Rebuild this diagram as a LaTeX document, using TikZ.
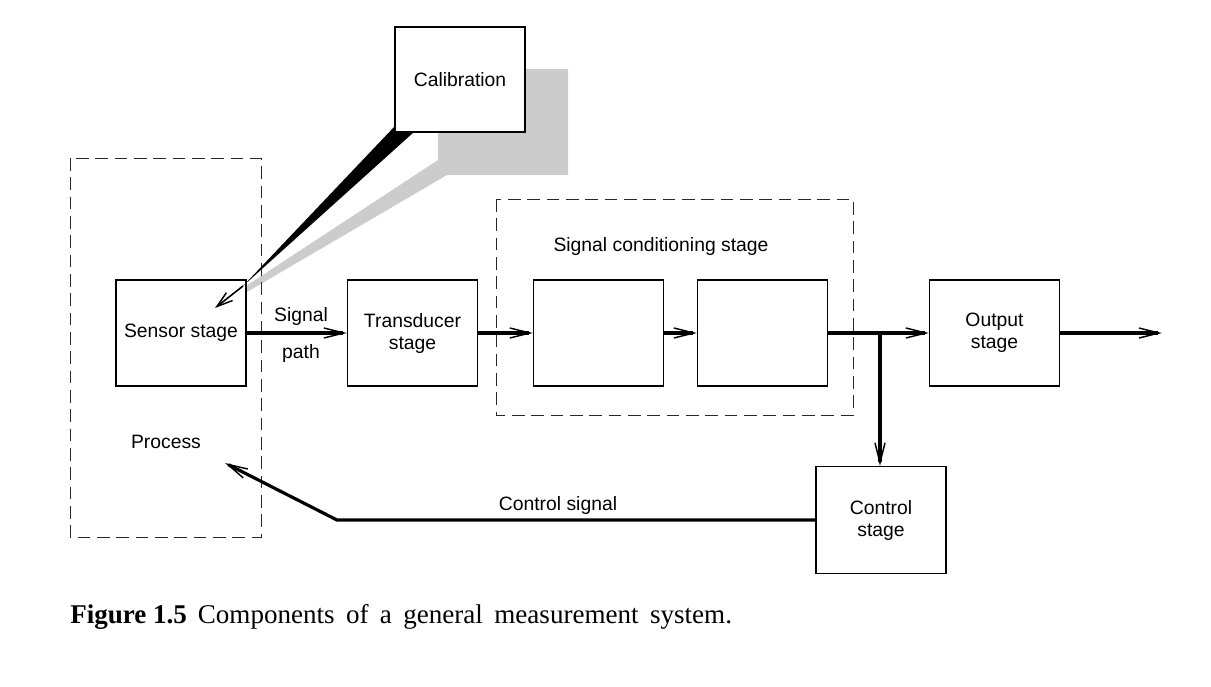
\documentclass[tikz,border=0pt]{standalone}
\usepackage{fontspec}
\setmainfont{Liberation Sans}
\newfontfamily\capfont{Liberation Serif}
\usepackage{tikz}
\usetikzlibrary{arrows.meta}

\begin{document}
\begin{tikzpicture}[x=0.75pt,y=0.75pt,yscale=-1,xscale=1,
	stage/.style={draw,line width=1pt,fill=white,minimum width=97.5pt,minimum height=79.5pt,align=center,inner sep=0pt,font=\fontsize{14.5}{16.5}\selectfont},
	lbl/.style={inner sep=0.75pt,font=\fontsize{14.5}{16.5}\selectfont},
	dashbox/.style={line width=0.75pt,dash pattern={on 9.5pt off 5pt},color={rgb, 255:red, 40; green, 40; blue, 40 }},
	sig/.style={line width=2.4pt,-{Straight Barb[length=15pt,width=7.5pt,line width=1.1pt]}}]
	\useasboundingbox (0,0) rectangle (1211,686);

	%Shape: Polygon [id:shadow]
	\fill [color={rgb, 255:red, 204; green, 204; blue, 204 }] (438,69) -- (568,69) -- (568,175) -- (447,175) -- (247,292) -- (243,288) -- (438,160) -- cycle ;
	%Shape: Rectangle [id:process]
	\draw [dashbox] (70,158) rectangle (261,537) ;
	%Shape: Rectangle [id:conditioning]
	\draw [dashbox] (496,199) rectangle (853,415) ;

	% Stage Nodes
	\draw (460,79.5) node [stage,minimum height=78.75pt] (calib) {Calibration};
	\draw (181,333) node [stage] (sensor) {Sensor stage};
	\draw (412.5,333) node [stage] (trans) {Transducer\\stage};
	\draw (598.5,333) node [stage] (sca) {};
	\draw (762.5,333) node [stage] (scb) {};
	\draw (994.5,333) node [stage] (out) {Output\\stage};
	\draw (881,520) node [stage,minimum height=80.25pt] (ctrl) {Control\\stage};

	%Shape: Polygon [id:wedge]
	\fill (395,126) -- (395,132) -- (414,132) -- (243,286) -- cycle ;
	\coordinate (wtip) at (243,286);
	\coordinate (calin) at (215,308);
	\draw [line width=1.2pt,-{Straight Barb[length=12pt,width=7.5pt,line width=1.1pt]}] (wtip) -- (calin) ;

	% Signal path
	\coordinate (junc) at (880,333);
	\coordinate (outend) at (1162,333);
	\draw [sig] (sensor) -- (trans) ;
	\draw [sig] (trans) -- (sca) ;
	\draw [sig] (sca) -- (scb) ;
	\draw [line width=2.4pt] (scb.east) -- (junc) ;
	\draw [sig] (junc) -- (out.west) ;
	\draw [sig] (out) -- (outend) ;
	\draw [sig] (junc) -- (junc |- ctrl.north) ;

	% Control signal
	\coordinate (bend) at (337,520);
	\coordinate (procin) at (225,463);
	\draw [sig] (ctrl.west) -- (bend) -- (procin) ;

	% Text Node
	\draw (301,316) node [lbl] (sigtxt) {Signal};
	% Text Node
	\draw (301,353) node [lbl] (pathtxt) {path};
	% Text Node
	\draw (166,442) node [lbl] (proctxt) {Process};
	% Text Node
	\draw (661,246) node [lbl] (condtxt) {Signal conditioning stage};
	% Text Node
	\draw (558,505) node [lbl] (ctrltxt) {Control signal};
	% Text Node
	\draw (70,623) node [anchor=base west,inner sep=0pt,font=\capfont\fontsize{20.3}{24}\selectfont] (caption) {\textbf{Figure 1.5}\hspace{0.4em}\spaceskip=0.42em Components of a general measurement system.};

\end{tikzpicture}
\end{document}
